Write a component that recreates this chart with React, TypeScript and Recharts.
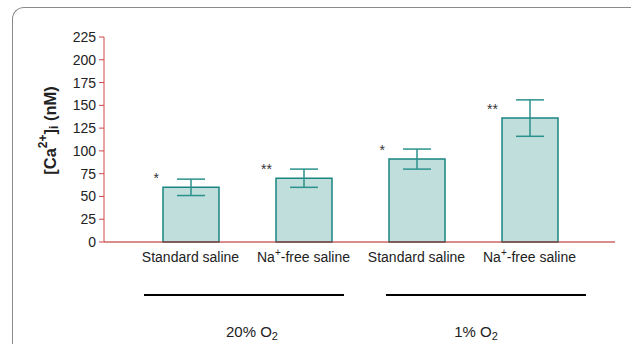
import { BarChart, Bar, XAxis, YAxis, ErrorBar, LabelList } from 'recharts';

// condiciones y valores
const conditions = ['Standard saline', 'Na+-free saline', 'Standard saline', 'Na+-free saline'];
const oxygenGroups = ['20% O2', '20% O2', '1% O2', '1% O2'];
const meanCa = [60, 70, 91, 136];
const semCa = [9, 10, 11, 20];
const significance = ['*', '**', '*', '**'];
const yTicks = [0, 25, 50, 75, 100, 125, 150, 175, 200, 225];

const data = conditions.map((name, i) => ({
  name,
  group: oxygenGroups[i],
  value: meanCa[i],
  err: semCa[i],
  sig: significance[i],
}));

const FONT = '"Liberation Sans", Arial, sans-serif';
const TEXT = '#222';

// "Na+" -> superindice
const ConditionTick = ({ x, y, payload }: any) => {
  const label: string = payload.value;
  const idx = label.indexOf('+');
  return (
    <text x={x} y={y} dy={20} textAnchor="middle" fontSize={14} fontFamily={FONT} fill={TEXT}>
      {idx < 0 ? (
        label
      ) : (
        <>
          <tspan>{label.slice(0, idx)}</tspan>
          <tspan dy={-6} fontSize={10}>+</tspan>
          <tspan dy={6}>{label.slice(idx + 1)}</tspan>
        </>
      )}
    </text>
  );
};

// linea horizontal + "xx% O2" con subindice
const GroupTick = ({ x, y, payload, index }: any) => {
  const label: string = payload.value;
  const shift = (index ?? payload.index) === 0 ? -8 : 10;
  return (
    <g>
      <line x1={x + shift - 100} x2={x + shift + 100} y1={y + 23} y2={y + 23} stroke="#000" strokeWidth={2} />
      <text x={x} y={y + 65} textAnchor="middle" fontSize={15} fontFamily={FONT} fill={TEXT}>
        <tspan>{label.slice(0, -1)}</tspan>
        <tspan dy={3} fontSize={11}>{label.slice(-1)}</tspan>
      </text>
    </g>
  );
};

const YLabel = ({ viewBox }: any) => {
  const cx = (viewBox?.x ?? 0) + 50;
  const cy = (viewBox?.y ?? 37) + (viewBox?.height ?? 205) / 2 - 9;
  return (
    <text
      x={cx}
      y={cy}
      transform={`rotate(-90, ${cx}, ${cy})`}
      textAnchor="middle"
      dominantBaseline="central"
      fontSize={16.5}
      fontWeight="bold"
      fontFamily={FONT}
      fill={TEXT}
    >
      <tspan>[Ca</tspan>
      <tspan dy={-7} fontSize={12}>2+</tspan>
      <tspan dy={7}>]</tspan>
      <tspan dy={4} fontSize={12}>i</tspan>
      <tspan dy={-4}> (nM)</tspan>
    </text>
  );
};

const SigLabel = ({ x, y, value }: any) => (
  <text x={x - 4} y={y - 4} textAnchor="end" fontSize={14} fontFamily={FONT} fill="#333">
    {value}
  </text>
);

export default function App() {
  return (
    <div style={{ position: 'absolute', left: 0, top: 0, width: 631, height: 344, background: '#fff' }}>
      <div
        style={{
          position: 'absolute',
          left: 12,
          top: 7,
          width: 640,
          height: 360,
          borderLeft: '1.5px solid #8a8a8a',
          borderTop: '1.5px solid #8a8a8a',
          borderTopLeftRadius: 12,
        }}
      />
      <BarChart
        width={631}
        height={344}
        data={data}
        margin={{ top: 37, right: 16, left: 0, bottom: 0 }}
        style={{ position: 'absolute', left: 0, top: 0 }}
      >
        <YAxis
          width={104}
          domain={[0, 225]}
          ticks={yTicks}
          interval={0}
          stroke="#d04848"
          tickSize={5}
          tickMargin={3}
          tick={{ fill: TEXT, fontSize: 14, fontFamily: FONT }}
          label={<YLabel />}
        />
        <XAxis
          dataKey="name"
          height={30}
          interval={0}
          padding={{ left: 30, right: 29 }}
          stroke="#b41a1a"
          tickLine={false}
          tickSize={0}
          tickMargin={0}
          tick={<ConditionTick />}
        />
        <XAxis
          xAxisId="grp"
          dataKey="group"
          allowDuplicatedCategory={false}
          height={72}
          interval={0}
          padding={{ left: 36, right: 27 }}
          axisLine={false}
          tickLine={false}
          tickSize={0}
          tickMargin={0}
          tick={<GroupTick />}
        />
        <Bar
          dataKey="value"
          barSize={56}
          fill="#bfdedc"
          stroke="#1a8580"
          strokeWidth={1.5}
          isAnimationActive={false}
        >
          <ErrorBar dataKey="err" width={14} stroke="#2b918c" strokeWidth={1.5} />
          <LabelList dataKey="sig" content={<SigLabel />} />
        </Bar>
      </BarChart>
    </div>
  );
}
